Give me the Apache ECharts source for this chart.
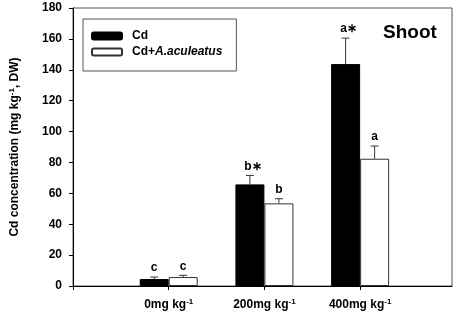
<!DOCTYPE html>
<html>
<head>
<meta charset="utf-8">
<script src="https://cdn.jsdelivr.net/npm/echarts@6/dist/echarts.min.js"></script>
<style>
  html, body { margin: 0; padding: 0; background: #fff; }
  #chart { width: 459px; height: 316px; }
</style>
</head>
<body>
<div id="chart"></div>
<script>
// dose groups (x positions 1..3)
var doses = ['0mg', '200mg', '400mg'];
var yTicks = [0, 180, 20]; // min, max, step

// Cd
var cdMean = [4.5, 65.8, 143.7];
var cdSE = [1.3, 5.8, 16.8];
var cdLetters = ['c', 'b\u2217', 'a\u2217'];

// Cd + A.aculeatus
var acMean = [5.8, 53.5, 82.4];
var acSE = [1.1, 3.0, 8.2];
var acLetters = ['c', 'b', 'a'];

var FONT = 'Liberation Sans, Arial, sans-serif';

function pairs(vals) {
  return vals.map(function (v, i) { return [i + 1, v]; });
}
function triples(vals, se) {
  return vals.map(function (v, i) { return [i + 1, v, se[i]]; });
}

// 误差线 + 显著性字母
function errorSeries(vals, se, letters, offset, color) {
  return {
    type: 'custom',
    z: 5,
    data: triples(vals, se),
    renderItem: function (params, api) {
      var p0 = api.coord([api.value(0), api.value(1)]);
      var p1 = api.coord([api.value(0), api.value(1) + api.value(2)]);
      var cx = p0[0] + offset;
      var txt = letters[params.dataIndex];
      return {
        type: 'group',
        children: [
          { type: 'line', shape: { x1: cx, y1: p0[1], x2: cx, y2: p1[1] },
            style: { stroke: color, lineWidth: 1 } },
          { type: 'line', shape: { x1: cx - 4, y1: p1[1], x2: cx + 4, y2: p1[1] },
            style: { stroke: color, lineWidth: 1 } },
          { type: 'text', x: cx + (txt.length > 1 ? 3 : 0), y: p1[1] - 9,
            style: { text: txt, font: 'bold 12px ' + FONT,
              fill: '#000', align: 'center', verticalAlign: 'middle' } }
        ]
      };
    }
  };
}

var chart = echarts.init(document.getElementById('chart'));
var option = {
  animation: false,
  backgroundColor: '#fff',
  grid: {
    left: 68, right: 7, top: 8, bottom: 30,
    show: true, borderColor: '#555', borderWidth: 1
  },
  legend: {
    left: 83, top: 19,
    orient: 'vertical',
    data: ['Cd', 'Cd+A.aculeatus'],
    itemWidth: 30, itemHeight: 7, itemGap: 2,
    padding: [10, 14, 12, 8],
    borderColor: '#555', borderWidth: 1,
    textStyle: {
      fontFamily: FONT, fontSize: 12, fontWeight: 'bold', color: '#000', lineHeight: 14,
      padding: [0, 0, 0, 5],
      rich: {
        n: { fontFamily: FONT, fontSize: 12, fontWeight: 'bold', color: '#000' },
        i: { fontFamily: FONT, fontSize: 12, fontWeight: 'bold', fontStyle: 'italic', color: '#000' }
      }
    },
    formatter: function (name) {
      if (name === 'Cd+A.aculeatus') return '{n|Cd+}{i|A.aculeatus}';
      return '{n|' + name + '}';
    }
  },
  graphic: [{
    type: 'text', left: 383, top: 23,
    style: { text: 'Shoot', font: 'bold 19px ' + FONT, fill: '#000' }
  }],
  xAxis: {
    type: 'value',
    min: 0, max: 3.96, interval: 1,
    splitLine: { show: false },
    axisLine: { lineStyle: { color: '#000', width: 1 } },
    axisTick: { length: 4, lineStyle: { color: '#000' } },
    axisLabel: {
      margin: 12,
      showMaxLabel: false,
      formatter: function (v) {
        var d = doses[v - 1];
        return d ? '{t|' + d + ' kg}{s|-1}' : '';
      },
      rich: {
        t: { fontFamily: FONT, fontSize: 12, fontWeight: 'bold', color: '#000', lineHeight: 14 },
        s: { fontFamily: FONT, fontSize: 8, fontWeight: 'bold', color: '#000', verticalAlign: 'top', lineHeight: 14 }
      }
    }
  },
  yAxis: {
    type: 'value',
    min: yTicks[0], max: yTicks[1], interval: yTicks[2],
    splitLine: { show: false },
    axisLine: { show: true, lineStyle: { color: '#000', width: 1 } },
    axisTick: { show: true, length: 4, lineStyle: { color: '#000' } },
    axisLabel: { margin: 11, fontFamily: FONT, fontSize: 12, fontWeight: 'bold', color: '#000' },
    name: '{t|Cd concentration (mg kg}{s|-1}{t|, DW)}',
    nameLocation: 'middle',
    nameRotate: 90,
    nameGap: 51,
    nameTextStyle: {
      rich: {
        t: { fontFamily: FONT, fontSize: 12, fontWeight: 'bold', color: '#000', lineHeight: 14 },
        s: { fontFamily: FONT, fontSize: 8, fontWeight: 'bold', color: '#000', verticalAlign: 'top', lineHeight: 14 }
      }
    }
  },
  series: [
    {
      name: 'Cd', type: 'bar', data: pairs(cdMean),
      barWidth: 29, barGap: '0%',
      itemStyle: { color: '#000', borderColor: '#000', borderWidth: 1 }
    },
    {
      name: 'Cd+A.aculeatus', type: 'bar', data: pairs(acMean),
      barWidth: 29, barGap: '0%',
      itemStyle: { color: '#fff', borderColor: '#333', borderWidth: 1 }
    },
    errorSeries(cdMean, cdSE, cdLetters, -14.5, '#333'),
    errorSeries(acMean, acSE, acLetters, 14.5, '#333')
  ]
};
chart.setOption(option);
</script>
</body>
</html>
